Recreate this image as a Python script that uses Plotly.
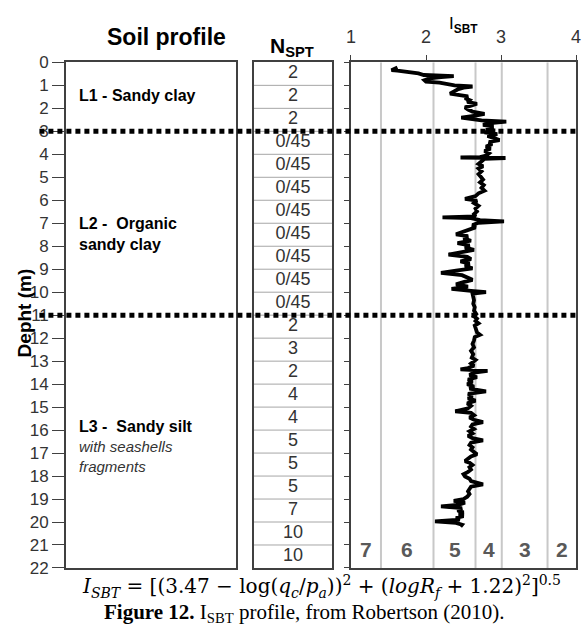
import plotly.graph_objects as go

# ---- data -----------------------------------------------------------------
# CPT-derived soil behaviour type index with depth
depth_m = [0.22, 0.28, 0.34, 0.36, 0.40, 0.48, 0.55, 0.58, 0.60, 0.64, 0.70, 0.78, 0.84, 0.88,
           0.94, 1.00, 1.05, 1.10, 1.18, 1.28, 1.36, 1.42, 1.48, 1.56, 1.64, 1.72, 1.80, 1.88,
           1.96, 2.05, 2.14, 2.24, 2.32, 2.40, 2.46, 2.52, 2.58, 2.64, 2.72, 2.80, 2.88, 2.96,
           3.04, 3.12, 3.20, 3.30, 3.38, 3.46, 3.56, 3.66, 3.76, 3.86, 3.96, 4.06, 4.12, 4.14,
           4.16, 4.20, 4.30, 4.42, 4.52, 4.62, 4.74, 4.86, 4.98, 5.10, 5.22, 5.34, 5.46, 5.58,
           5.70, 5.82, 5.94, 6.02, 6.12, 6.24, 6.36, 6.48, 6.60, 6.70, 6.74, 6.78, 6.86, 6.92,
           6.98, 7.08, 7.18, 7.28, 7.38, 7.48, 7.56, 7.66, 7.76, 7.86, 7.96, 8.06, 8.16, 8.26,
           8.36, 8.46, 8.56, 8.66, 8.76, 8.86, 8.96, 9.06, 9.16, 9.26, 9.36, 9.46, 9.56, 9.66,
           9.76, 9.86, 9.94, 10.00, 10.06, 10.20, 10.35, 10.50, 10.65, 10.80, 10.95, 11.05,
           11.15, 11.25, 11.35, 11.45, 11.60, 11.75, 11.85, 11.95, 12.10, 12.25, 12.40, 12.55,
           12.70, 12.85, 12.95, 13.10, 13.20, 13.30, 13.36, 13.42, 13.50, 13.60, 13.70, 13.80,
           13.90, 14.00, 14.10, 14.20, 14.32, 14.42, 14.52, 14.62, 14.72, 14.84, 14.95, 15.05,
           15.18, 15.25, 15.35, 15.45, 15.55, 15.65, 15.75, 15.85, 15.95, 16.05, 16.15, 16.25,
           16.35, 16.45, 16.55, 16.65, 16.75, 16.85, 16.95, 17.05, 17.15, 17.25, 17.35, 17.42,
           17.52, 17.62, 17.72, 17.82, 17.92, 18.02, 18.12, 18.22, 18.36, 18.46, 18.56, 18.66,
           18.78, 18.90, 19.00, 19.08, 19.16, 19.26, 19.32, 19.40, 19.50, 19.58, 19.66, 19.74,
           19.82, 19.90, 19.97, 20.04, 20.12, 20.20]
isbt = [1.62, 1.56, 1.54, 1.62, 1.75, 1.90, 1.97, 2.12, 2.37, 2.20, 2.05, 1.98, 2.00, 2.18,
        2.30, 2.38, 2.62, 2.50, 2.42, 2.35, 2.32, 2.45, 2.56, 2.52, 2.58, 2.55, 2.68, 2.60,
        2.52, 2.56, 2.62, 2.78, 2.66, 2.47, 2.58, 2.74, 3.07, 2.86, 2.76, 2.90, 2.80, 2.92,
        2.78, 2.95, 2.82, 2.92, 2.98, 2.84, 2.88, 2.80, 2.86, 2.78, 2.84, 2.80, 2.72, 2.46,
        3.06, 2.78, 2.74, 2.70, 2.76, 2.70, 2.74, 2.70, 2.73, 2.76, 2.72, 2.77, 2.74, 2.78,
        2.70, 2.66, 2.52, 2.68, 2.64, 2.70, 2.66, 2.68, 2.64, 2.66, 2.22, 2.60, 2.72, 3.04,
        2.70, 2.62, 2.66, 2.56, 2.48, 2.40, 2.56, 2.50, 2.60, 2.42, 2.58, 2.52, 2.64, 2.48,
        2.30, 2.55, 2.60, 2.46, 2.58, 2.52, 2.62, 2.40, 2.20, 2.48, 2.56, 2.62, 2.50, 2.40,
        2.56, 2.34, 2.60, 2.80, 2.62, 2.63, 2.64, 2.63, 2.65, 2.64, 2.67, 2.64,
        2.68, 2.66, 2.70, 2.65, 2.66, 2.68, 2.72, 2.65, 2.64, 2.62, 2.64, 2.60,
        2.63, 2.61, 2.66, 2.60, 2.64, 2.56, 2.46, 2.82, 2.64, 2.58, 2.68, 2.56,
        2.62, 2.55, 2.64, 2.58, 2.80, 2.56, 2.62, 2.56, 2.66, 2.55, 2.60, 2.56,
        2.39, 2.60, 2.64, 2.58, 2.64, 2.76, 2.62, 2.60, 2.64, 2.58, 2.62, 2.56,
        2.62, 2.76, 2.60, 2.58, 2.62, 2.60, 2.64, 2.68, 2.60, 2.56, 2.52, 2.58,
        2.62, 2.58, 2.60, 2.56, 2.50, 2.52, 2.58, 2.60, 2.76, 2.60, 2.58, 2.56,
        2.58, 2.55, 2.50, 2.37, 2.52, 2.42, 2.20, 2.48, 2.42, 2.50, 2.44, 2.50,
        2.40, 2.45, 2.12, 2.40, 2.48, 2.46]

# SPT blow counts, one value per metre from the surface down to 22 m
nspt_labels = ["2", "2", "2",
               "0/45", "0/45", "0/45", "0/45", "0/45", "0/45", "0/45", "0/45",
               "2", "3", "2", "4", "4", "5", "5", "5", "7", "10", "10"]

# Layer interfaces (m)
layer_bounds = [3, 11]

# Soil behaviour type zone boundaries (I_SBT) and the zone numbers between them
zone_bounds = [1.40, 2.10, 2.66, 3.01, 3.62]
zone_numbers = ["7", "6", "5", "4", "3", "2"]

isbt_range = [1, 4]
isbt_ticks = [1, 2, 3, 4]
depth_max = 22
depth_ticks = list(range(0, depth_max + 1))

# ---- layout helpers ---------------------------------------------------------
W, H = 584, 643
SANS = "Arial, Liberation Sans, sans-serif"
SERIF = "Times New Roman, Liberation Serif, serif"
MATH = "DejaVu Serif, serif"
DARK = "#404040"


def px(x):
    return x / W


def py(y):
    return 1 - y / H


y_dom = [py(576), py(55)]

fig = go.Figure()

# placeholder so the soil-profile panel is built
fig.add_trace(go.Scatter(x=[None], y=[None], xaxis="x", yaxis="y", showlegend=False))

# N_SPT column
row_mid = [i + 0.5 for i in range(len(nspt_labels))]
fig.add_trace(go.Scatter(
    x=[0.5] * len(nspt_labels), y=row_mid, text=nspt_labels, mode="text",
    textposition="middle center", textfont=dict(family=SANS, size=18, color="#333333"),
    xaxis="x2", yaxis="y2", showlegend=False, hoverinfo="skip"))

# I_SBT profile
fig.add_trace(go.Scatter(
    x=isbt, y=depth_m, mode="lines", line=dict(color="black", width=3.8),
    xaxis="x3", yaxis="y3", showlegend=False))

shapes = []
# zone boundary lines
for b in zone_bounds:
    shapes.append(dict(type="line", xref="x3", yref="y3", x0=b, x1=b, y0=0, y1=depth_max,
                       line=dict(color="#c8c8c8", width=2), layer="below"))
# row separators of the N_SPT column
for i in range(1, len(nspt_labels)):
    shapes.append(dict(type="line", xref="x2", yref="y2", x0=0, x1=1, y0=i, y1=i,
                       line=dict(color="#a6a6a6", width=1), layer="below"))
# layer interfaces
for b in layer_bounds:
    shapes.append(dict(type="line", xref="paper", yref="y", x0=px(35), x1=1, y0=b, y1=b,
                       line=dict(color="black", width=5, dash="5px,4px"), layer="above"))

annotations = []
# zone numbers centred between boundaries
edges = [isbt_range[0]] + zone_bounds + [isbt_range[1]]
for k, lab in enumerate(zone_numbers):
    annotations.append(dict(x=(edges[k] + edges[k + 1]) / 2, y=21.2, xref="x3", yref="y3",
                            text="<b>%s</b>" % lab, showarrow=False,
                            font=dict(family=SANS, size=21, color="#595959")))


def paper_text(x, y, text, size, xanchor="center", color="black", family=SANS, angle=0):
    annotations.append(dict(x=px(x), y=py(y), xref="paper", yref="paper", text=text,
                            showarrow=False, xanchor=xanchor, yanchor="middle",
                            align="left" if xanchor == "left" else "center",
                            textangle=angle, font=dict(family=family, size=size, color=color)))


paper_text(164, 29, "<b>Soil profile</b>", 23)
paper_text(292, 39, "<b>N<sub>SPT</sub></b>", 21)
paper_text(466, 16, "I<sub><b>SBT</b></sub>", 17)
paper_text(20, 313, "<b>Depht (m)</b>", 19, angle=-90)

paper_text(73, 89, "<b>L1 - Sandy clay</b>", 16, xanchor="left")
paper_text(73, 232, "<b>L2 -  Organic<br>sandy clay</b>", 16, xanchor="left")
paper_text(73, 430, "<b>L3 -  Sandy silt</b>", 16, xanchor="left")
paper_text(73, 461, "<i>with seashells<br>fragments</i>", 15, xanchor="left", color="#333333")

paper_text(322, 595,
           "<i>I<sub>SBT</sub></i>&nbsp;=&nbsp;[(3.47&nbsp;−&nbsp;log(<i>q<sub>c</sub></i>/<i>p<sub>a</sub></i>))<sup>2</sup>"
           "&nbsp;+&nbsp;(<i>logR<sub>f</sub></i>&nbsp;+&nbsp;1.22)<sup>2</sup>]<sup>0.5</sup>",
           20, family=MATH)
paper_text(304, 622, "<b>Figure 12.</b> I<sub>SBT</sub> profile, from Robertson (2010).", 21,
           family=SERIF)

axis_common = dict(showgrid=False, zeroline=False, showline=True, linecolor=DARK,
                   linewidth=1.5, fixedrange=True)

fig.update_layout(
    width=W, height=H, margin=dict(l=0, r=0, t=0, b=0),
    paper_bgcolor="white", plot_bgcolor="rgba(0,0,0,0)", showlegend=False,
    xaxis=dict(domain=[px(62), px(235)], range=[0, 1], anchor="y", mirror=True,
               showticklabels=False, ticks="", **axis_common),
    yaxis=dict(domain=y_dom, range=[depth_max, 0], anchor="x", mirror=True,
               tickvals=depth_ticks, ticks="outside", ticklen=12, tickcolor=DARK,
               tickfont=dict(family=SANS, size=17, color="#333333"), **axis_common),
    xaxis2=dict(domain=[px(253), px(333)], range=[0, 1], anchor="y2", mirror=True,
                showticklabels=False, ticks="", **axis_common),
    yaxis2=dict(domain=y_dom, range=[depth_max, 0], anchor="x2", mirror=True,
                showticklabels=False, ticks="", **axis_common),
    xaxis3=dict(domain=[px(352), px(581)], range=isbt_range, anchor="y3", side="top",
                mirror=True, tickvals=isbt_ticks, ticks="outside", ticklen=6, tickcolor=DARK,
                ticklabelstandoff=4, ticklabeloverflow="allow",
                tickfont=dict(family=SANS, size=18, color="#333333"), **axis_common),
    yaxis3=dict(domain=y_dom, range=[depth_max, 0], anchor="x3", mirror=True,
                tickvals=depth_ticks, ticks="outside", ticklen=5, tickcolor=DARK,
                showticklabels=False, **axis_common),
    shapes=shapes, annotations=annotations,
)

fig.write_html("out.html")
